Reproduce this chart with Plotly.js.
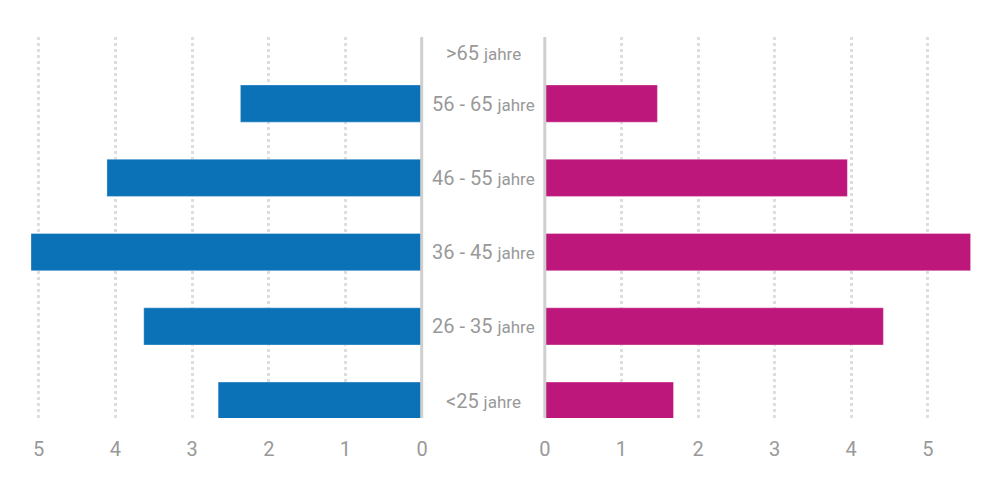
<!DOCTYPE html>
<html>
<head>
<meta charset="utf-8">
<script src="https://cdn.plot.ly/plotly-3.0.1.min.js"></script>
<style>html,body{margin:0;padding:0;background:#fff}#chart{width:1000px;height:490px}</style>
</head>
<body>
<div id="chart"></div>
<script>
// Data
const categories = ['<25', '26 - 35', '36 - 45', '46 - 55', '56 - 65', '>65'];
const unitLabel = 'jahre';
const leftValues = [2.66, 3.63, 5.10, 4.11, 2.37, 0];
const rightValues = [1.68, 4.42, 5.56, 3.95, 1.47, 0];
const tickValues = [0, 1, 2, 3, 4, 5];
const tickLabels = ['0', '1', '2', '3', '4', '5'];

const blue = '#0b72b8';
const magenta = '#bd177c';
const textGray = '#999999';

const yRange = [-0.233, 4.896];
const leftDomain = [0.031, 0.4222];
const rightDomain = [0.5448, 0.9707];

const traces = [
  {
    type: 'bar', orientation: 'h',
    y: categories, x: leftValues,
    xaxis: 'x', yaxis: 'y',
    marker: {color: blue, line: {color: 'rgba(255,255,255,0.3)', width: 1}},
    hoverinfo: 'x+y'
  },
  {
    type: 'bar', orientation: 'h',
    y: categories, x: rightValues,
    xaxis: 'x2', yaxis: 'y2',
    marker: {color: magenta, line: {color: 'rgba(255,255,255,0.3)', width: 1}},
    hoverinfo: 'x+y'
  }
];

// category labels, centred between the two halves
const annotations = categories.map((c, i) => ({
  xref: 'paper', yref: 'y',
  x: (leftDomain[1] + rightDomain[0]) / 2,
  y: Math.min(i, yRange[1] - 0.22),
  text: c + ' <span style="font-size:17px">' + unitLabel + '</span>',
  showarrow: false,
  xanchor: 'center', yanchor: 'middle',
  font: {family: 'Roboto, sans-serif', size: 20, color: textGray}
}));

// zero lines at the inner edges of both halves (not clipped)
const shapes = [
  {type: 'line', xref: 'paper', yref: 'paper', x0: leftDomain[1] - 0.0005, x1: leftDomain[1] - 0.0005, y0: 0, y1: 1,
   line: {color: '#cfcfcf', width: 3}, layer: 'above'},
  {type: 'line', xref: 'paper', yref: 'paper', x0: rightDomain[0], x1: rightDomain[0], y0: 0, y1: 1,
   line: {color: '#cfcfcf', width: 3}, layer: 'above'}
];

const xCommon = {
  tickmode: 'array', tickvals: tickValues, ticktext: tickLabels,
  showgrid: true, gridcolor: '#dedede', gridwidth: 3, griddash: 'dot',
  zeroline: false, showline: false,
  ticks: '', ticklabelstandoff: 17,
  tickfont: {family: 'Roboto, sans-serif', size: 20, color: textGray},
  fixedrange: true
};

const yCommon = {
  type: 'category', categoryorder: 'array', categoryarray: categories,
  range: yRange, showticklabels: false, showgrid: false, zeroline: false,
  showline: false, ticks: '', fixedrange: true
};

const layout = {
  width: 1000, height: 490,
  margin: {l: 0, r: 0, t: 36.7, b: 72},
  paper_bgcolor: '#fff', plot_bgcolor: 'rgba(0,0,0,0)',
  showlegend: false,
  bargap: 0.5,
  font: {family: 'Roboto, sans-serif', color: textGray},
  xaxis: Object.assign({}, xCommon, {domain: leftDomain, range: [5.1, 0], anchor: 'y'}),
  xaxis2: Object.assign({}, xCommon, {domain: rightDomain, range: [0, 5.56], anchor: 'y2'}),
  yaxis: Object.assign({}, yCommon, {anchor: 'x'}),
  yaxis2: Object.assign({}, yCommon, {anchor: 'x2'}),
  shapes: shapes,
  annotations: annotations
};

Plotly.newPlot('chart', traces, layout, {displayModeBar: false, staticPlot: true});
</script>
</body>
</html>
